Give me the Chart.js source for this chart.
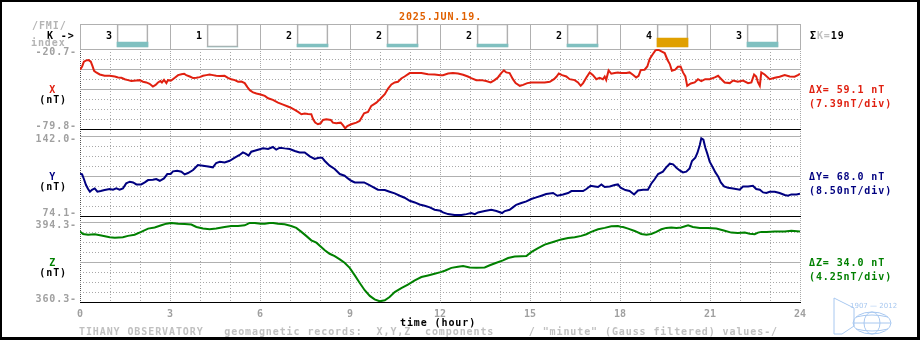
<!DOCTYPE html>
<html>
<head>
<meta charset="utf-8">
<title>Tihany geomagnetic records 2025.JUN.19.</title>
<script src="https://cdn.jsdelivr.net/npm/chart.js@4.4.1/dist/chart.umd.min.js"></script>
<style>
  html, body { margin: 0; padding: 0; background: #fff; }
  #wrap { position: relative; width: 920px; height: 340px; overflow: hidden; background: #fff; }
  #wrap canvas { position: absolute; left: 0; top: 0; }
  .t { position: absolute; font: bold 10px "DejaVu Sans Mono", monospace; letter-spacing: 0.9px;
       line-height: 12px; white-space: pre; }
  #frame { position: absolute; left: 0; top: 0; width: 920px; height: 340px; box-sizing: border-box;
           border-style: solid; border-color: #000; border-width: 2px 3px 3px 2px; pointer-events: none; }
</style>
</head>
<body>
<div id="wrap">
  <canvas id="kCanvas" width="920" height="340"></canvas>
  <canvas id="xCanvas" width="920" height="340"></canvas>
  <canvas id="yCanvas" width="920" height="340"></canvas>
  <canvas id="zCanvas" width="920" height="340"></canvas>
  <svg style="position:absolute;left:832px;top:296px" width="72" height="42" viewBox="0 0 72 42">
    <g fill="none" stroke="#a8c8f0" stroke-width="1">
      <path d="M2 2 L22 12 L22 30 L10 38 L2 38 Z"/>
      <ellipse cx="40" cy="27" rx="19" ry="11"/>
      <ellipse cx="40" cy="27" rx="8" ry="11"/>
      <line x1="21" y1="27" x2="59" y2="27"/>
      <path d="M24 21 Q40 17 56 21 M24 33 Q40 37 56 33"/>
    </g>
    <text x="18" y="12" font-family="DejaVu Sans" font-size="7" fill="#a8c8f0">1907 — 2012</text>
  </svg>
  <div id="frame"></div>
</div>
<script>
const FONT = '"DejaVu Sans Mono", monospace';
const GRID = '#a8a8a8';
const SOLID_GREY = '#b0b0b0';

// --- data ---
const dateLabel = '2025.JUN.19.';
const kIndex = [3, 1, 2, 2, 2, 2, 4, 3];       // K per 3-hour interval
const kBar = [5, 0, 3, 3, 3, 3, 9, 5];         // height of the K bar in the strip
const kSum = 19;
const hourTicks = [0, 3, 6, 9, 12, 15, 18, 21, 24];

const components = ['X', 'Y', 'Z'];
const compColors = ['#e02010', '#000080', '#008000'];
const compTop = [-20.7, 142.0, 394.3];
const compBottom = [-79.8, 74.1, 360.3];
const compDelta = ['59.1', '68.0', '34.0'];
const compPerDiv = ['7.39', '8.50', '4.25'];

const xHours = [0.00,0.07,0.13,0.21,0.29,0.36,0.42,0.47,0.54,0.66,0.82,0.99,1.16,1.27,1.38,1.49,1.60,1.71,1.88,1.99,
  2.10,2.21,2.32,2.43,2.52,2.60,2.68,2.73,2.80,2.88,2.93,3.04,3.16,3.27,3.38,3.47,3.54,3.66,3.77,3.88,3.99,
  4.10,4.21,4.32,4.43,4.54,4.66,4.82,4.93,5.04,5.16,5.27,5.38,5.49,5.58,5.66,5.77,5.88,6.02,6.16,6.27,6.43,
  6.60,6.77,6.93,7.04,7.16,7.27,7.38,7.49,7.60,7.71,7.77,7.84,7.93,8.02,8.10,8.21,8.36,8.43,8.54,8.69,8.77,
  8.84,8.91,9.04,9.21,9.32,9.47,9.60,9.71,9.88,10.02,10.16,10.27,10.38,10.49,10.60,10.71,10.82,10.99,11.16,
  11.38,11.60,11.82,12.02,12.10,12.27,12.43,12.60,12.77,12.93,13.04,13.21,13.38,13.54,13.69,13.82,13.93,
  14.04,14.13,14.21,14.32,14.43,14.52,14.66,14.77,14.91,15.04,15.27,15.49,15.66,15.80,15.88,15.96,16.07,
  16.21,16.32,16.49,16.60,16.69,16.77,16.88,16.99,17.10,17.21,17.32,17.43,17.49,17.54,17.62,17.71,17.82,
  17.93,18.02,18.21,18.32,18.43,18.54,18.62,18.69,18.82,18.91,18.99,19.08,19.18,19.27,19.38,19.49,19.58,
  19.66,19.73,19.84,19.93,20.02,20.10,20.18,20.24,20.36,20.49,20.60,20.71,20.84,20.99,21.16,21.27,21.38,
  21.49,21.66,21.77,21.93,22.10,22.27,22.38,22.47,22.54,22.60,22.66,22.71,22.82,22.99,23.16,23.32,23.49,
  23.66,23.82,23.93,24.00];
const xValues = [-36.0,-33.6,-30.1,-29.1,-28.9,-30.1,-33.6,-36.8,-38.0,-39.5,-40.5,-40.5,-41.0,-41.7,-42.0,-43.0,-43.7,-44.4,-44.0,-43.7,
  -44.9,-45.4,-46.4,-48.4,-47.2,-45.4,-44.4,-45.4,-43.5,-45.9,-43.7,-44.0,-42.0,-40.0,-39.3,-39.0,-40.0,-41.0,-42.2,-42.0,-41.5,
  -40.5,-40.0,-39.5,-40.0,-40.5,-40.7,-40.5,-42.0,-43.0,-43.7,-44.9,-44.7,-45.9,-48.9,-51.1,-52.8,-53.6,-54.3,-55.3,-57.1,-58.3,
  -60.3,-61.8,-63.2,-64.2,-65.7,-67.2,-68.9,-68.4,-68.7,-68.9,-72.6,-75.1,-76.3,-75.6,-73.1,-72.6,-73.1,-75.1,-75.6,-75.1,-77.1,
  -79.3,-77.6,-76.3,-75.1,-73.9,-68.2,-67.2,-62.7,-60.3,-57.3,-54.1,-49.9,-46.9,-45.4,-44.9,-42.5,-41.0,-38.5,-38.5,
  -38.5,-39.3,-39.5,-40.0,-40.0,-38.8,-38.5,-38.8,-39.7,-41.0,-42.2,-43.7,-43.7,-44.4,-45.4,-43.7,-41.7,
  -38.5,-36.5,-38.0,-38.5,-43.0,-45.9,-47.9,-47.2,-45.9,-45.4,-45.4,-45.4,-44.9,-43.0,-41.2,-38.8,-40.0,
  -41.0,-43.0,-43.7,-45.4,-47.9,-45.9,-41.7,-38.0,-40.0,-43.0,-42.0,-43.0,-41.0,-43.5,-36.5,-39.0,-38.5,
  -38.0,-38.5,-38.5,-38.0,-39.7,-41.7,-40.5,-36.3,-36.0,-33.6,-28.1,-24.9,-21.7,-21.2,-22.4,-23.7,-28.6,
  -31.8,-36.8,-36.0,-33.8,-33.6,-38.0,-41.0,-47.9,-46.2,-45.4,-43.0,-44.4,-43.0,-43.0,-41.7,-40.5,-43.0,
  -45.4,-45.9,-44.0,-44.9,-44.0,-45.9,-45.4,-39.5,-41.0,-45.4,-47.9,-38.0,-39.5,-43.0,-42.0,-41.2,-40.0,
  -41.0,-41.2,-40.0,-39.0];

const yHours = [0.00,0.07,0.13,0.20,0.27,0.33,0.40,0.49,0.58,0.69,0.82,0.99,1.10,1.21,1.32,1.43,1.54,1.66,1.77,1.88,
  2.04,2.16,2.27,2.43,2.54,2.66,2.80,2.91,3.02,3.10,3.24,3.38,3.49,3.60,3.77,3.93,4.10,4.27,4.43,4.54,4.66,
  4.82,4.99,5.16,5.32,5.43,5.52,5.62,5.71,5.82,6.02,6.10,6.27,6.43,6.54,6.66,6.82,6.99,7.16,7.32,7.49,7.66,
  7.82,7.96,8.07,8.16,8.32,8.49,8.66,8.82,8.93,9.04,9.16,9.32,9.47,9.60,9.77,9.93,10.16,10.32,10.49,10.66,
  10.82,10.99,11.16,11.32,11.49,11.66,11.82,12.02,12.10,12.27,12.49,12.71,12.88,13.04,13.16,13.27,13.49,
  13.71,13.88,14.07,14.16,14.32,14.43,14.54,14.71,14.88,15.04,15.21,15.38,15.54,15.77,15.91,16.10,16.27,
  16.38,16.60,16.77,16.88,17.02,17.16,17.27,17.38,17.49,17.66,17.82,17.93,18.02,18.18,18.32,18.47,18.60,
  18.77,18.93,19.04,19.16,19.27,19.43,19.54,19.66,19.77,19.88,19.99,20.10,20.21,20.32,20.40,20.51,20.58,
  20.66,20.71,20.78,20.84,20.91,20.99,21.10,21.18,21.27,21.36,21.47,21.60,21.77,21.99,22.10,22.27,22.43,
  22.54,22.66,22.77,22.88,22.99,23.16,23.32,23.49,23.60,23.71,23.88,24.00];
const yValues = [110.0,109.4,105.5,100.4,97.0,94.7,96.4,97.5,94.7,95.3,96.1,97.0,96.4,97.5,96.4,97.5,101.8,103.2,102.6,100.9,
  100.9,102.6,104.6,104.9,105.5,104.0,106.0,109.7,109.7,112.0,112.5,111.7,109.4,110.6,113.1,117.4,116.8,116.2,115.4,119.1,120.2,
  119.6,121.0,123.6,125.9,128.1,127.0,125.3,128.7,129.5,131.0,131.5,131.0,132.7,130.4,132.1,131.5,131.0,129.3,128.1,128.1,124.7,
  122.5,123.6,123.6,120.8,116.8,114.0,109.7,108.3,106.0,104.0,102.6,102.6,102.6,100.9,98.7,96.4,96.1,94.7,93.3,91.3,
  89.6,87.0,85.6,83.9,82.8,81.4,79.4,78.5,77.1,75.7,74.9,74.9,75.7,76.6,75.7,77.1,78.3,
  79.4,78.3,76.6,78.3,79.4,81.4,83.6,85.1,86.5,88.5,89.9,91.3,92.7,93.6,91.3,92.4,93.6,
  95.3,95.3,95.3,97.0,99.8,99.2,98.7,100.9,98.7,99.2,100.4,100.9,98.1,96.1,95.3,92.4,95.8,
  96.4,96.4,101.5,105.5,109.7,111.7,115.4,118.5,117.9,115.1,112.8,111.1,111.7,114.5,120.8,123.6,127.6,
  134.4,140.0,138.9,132.4,127.0,120.2,115.1,111.1,107.7,102.6,99.2,98.1,97.5,96.4,99.2,99.2,99.8,
  97.0,96.4,94.1,93.6,94.7,94.7,93.6,91.9,91.3,92.4,92.4,93.0];

const zHours = [0.00,0.10,0.27,0.49,0.71,0.99,1.16,1.43,1.60,1.82,2.04,2.27,2.49,2.71,2.88,3.04,3.27,3.49,3.71,3.88,
  4.10,4.32,4.54,4.82,5.04,5.27,5.49,5.66,5.82,6.02,6.16,6.38,6.60,6.82,7.04,7.21,7.38,7.54,7.71,7.88,8.04,
  8.16,8.32,8.49,8.66,8.82,8.99,9.16,9.32,9.49,9.66,9.82,9.99,10.16,10.32,10.49,10.71,10.93,11.16,11.38,
  11.60,11.82,12.02,12.16,12.38,12.60,12.77,12.99,13.21,13.49,13.66,13.88,14.10,14.27,14.49,14.71,14.88,
  15.04,15.27,15.49,15.77,16.04,16.27,16.49,16.71,16.88,17.04,17.27,17.49,17.71,17.93,18.02,18.10,18.27,
  18.49,18.71,18.88,19.04,19.21,19.38,19.54,19.71,19.88,20.04,20.27,20.43,20.66,20.93,21.21,21.49,21.71,
  21.93,22.16,22.32,22.49,22.60,22.71,22.88,23.16,23.49,23.71,24.00];
const zValues = [390.3,389.2,388.9,389.1,388.6,387.8,387.6,387.8,388.4,388.9,390.1,391.5,392.0,392.9,393.6,393.9,393.6,393.5,393.2,392.2,
  391.5,391.2,391.5,392.2,392.6,392.6,392.9,393.9,393.9,393.6,393.6,394.0,393.6,393.3,392.6,391.8,390.1,388.4,386.5,385.5,383.7,
  382.3,380.8,379.8,378.4,377.0,374.8,371.6,368.5,365.3,362.9,361.4,360.6,361.0,362.4,364.5,366.2,367.7,369.5,370.9,
  371.6,372.3,373.0,373.6,374.8,375.3,375.6,375.0,374.9,375.0,375.9,377.0,378.0,379.0,379.6,379.7,379.8,
  381.5,383.2,384.7,385.8,386.9,387.5,387.8,388.4,389.1,390.1,391.2,391.8,392.5,392.6,392.3,392.2,391.5,
  390.5,389.2,388.9,389.2,390.1,391.2,391.8,392.0,391.8,392.0,392.9,392.2,391.8,391.8,391.5,390.6,389.8,
  389.6,389.8,389.3,389.1,389.8,390.1,390.1,390.3,390.3,390.6,390.3];

// --- helpers ---
const crisp = p => Math.round(p) + 0.5;
function strokeLine(ctx, x1, y1, x2, y2) {
  ctx.beginPath();
  ctx.moveTo(x1, y1);
  ctx.lineTo(x2, y2);
  ctx.stroke();
}

// grid of a component panel: hourly verticals, 8 divisions horizontally
const panelGrid = {
  id: 'panelGrid',
  beforeDatasetsDraw(chart, args, opts) {
    const { ctx, chartArea: a } = chart;
    const xs = chart.scales.x, ys = chart.scales.y;
    ctx.save();
    ctx.lineWidth = 1;
    for (let h = 0; h <= 24; h++) {
      const px = crisp(xs.getPixelForValue(h));
      ctx.strokeStyle = h === 0 ? '#505050' : GRID;
      ctx.setLineDash(h % 3 === 0 ? [1, 1] : [1, 2]);
      strokeLine(ctx, px, a.top, px, a.bottom + opts.gap);
    }
    const x1 = crisp(xs.getPixelForValue(0)) - 0.5;
    const x2 = crisp(xs.getPixelForValue(24)) + 0.5;
    for (let i = 0; i <= 8; i++) {
      const py = crisp(ys.getPixelForValue(ys.min + (ys.max - ys.min) * i / 8));
      if (i === 0) { ctx.setLineDash([]); ctx.strokeStyle = '#000'; }
      else if (opts.solid.includes(i)) { ctx.setLineDash([]); ctx.strokeStyle = SOLID_GREY; }
      else { ctx.setLineDash([1, 2]); ctx.strokeStyle = GRID; }
      strokeLine(ctx, x1, py, x2, py);
    }
    ctx.restore();
  }
};

// K-index strip: frame, 3-hour separators and the K numbers
const kStrip = {
  id: 'kStrip',
  beforeDatasetsDraw(chart) {
    const { ctx, chartArea: a } = chart;
    const xs = chart.scales.x;
    ctx.save();
    ctx.lineWidth = 1;
    ctx.strokeStyle = SOLID_GREY;
    strokeLine(ctx, crisp(a.left) - 0.5, crisp(a.top), crisp(a.right) + 0.5, crisp(a.top));
    hourTicks.forEach(h => {
      const px = crisp(xs.getPixelForValue(h));
      strokeLine(ctx, px, crisp(a.top), px, a.bottom);
    });
    ctx.fillStyle = '#000';
    ctx.font = 'bold 10px ' + FONT;
    ctx.textAlign = 'center';
    ctx.textBaseline = 'middle';
    kIndex.forEach((k, i) => ctx.fillText(String(k), xs.getPixelForValue(i * 3 + 1) - 1, a.top + 12));
    ctx.restore();
  }
};

const quiet = { legend: { display: false }, tooltip: { enabled: false } };

// --- K strip chart ---
new Chart(document.getElementById('kCanvas'), {
  type: 'bar',
  data: {
    datasets: [
      {
        data: kIndex.map((k, i) => ({ x: i * 3 + 1.75, y: [2, 2 + kBar[i]] })),
        backgroundColor: kIndex.map(k => k >= 4 ? '#e0a000' : '#80c0c0'),
        borderWidth: 0,
        barThickness: 31,
        grouped: false
      },
      {
        data: kIndex.map((k, i) => ({ x: i * 3 + 1.75, y: [2, 25] })),
        backgroundColor: 'rgba(0,0,0,0)',
        borderColor: SOLID_GREY,
        borderWidth: 1,
        borderSkipped: false,
        barThickness: 31,
        grouped: false
      }
    ]
  },
  options: {
    responsive: false,
    animation: false,
    events: [],
    layout: { padding: { left: 80, right: 120, top: 24, bottom: 291 } },
    scales: {
      x: { type: 'linear', min: 0, max: 24, offset: false, display: false },
      y: { type: 'linear', min: 0, max: 25, display: false }
    },
    plugins: quiet
  },
  plugins: [kStrip]
});

// --- X, Y, Z panels ---
const panels = [
  { canvas: 'xCanvas', hours: xHours, values: xValues, top: 49, bottom: 129, gap: 7, solid: [4, 6, 8] },
  { canvas: 'yCanvas', hours: yHours, values: yValues, top: 136, bottom: 216, gap: 6, solid: [4, 8] },
  { canvas: 'zCanvas', hours: zHours, values: zValues, top: 222, bottom: 302, gap: 0, solid: [4, 8] }
];

const hourAxis = {
  type: 'linear', min: 0, max: 24, display: true, position: 'bottom',
  afterBuildTicks: s => { s.ticks = hourTicks.map(v => ({ value: v })); },
  afterFit: s => { s.height = 30; },
  grid: { display: false, drawTicks: false },
  border: { display: false },
  ticks: {
    color: '#a0a0a0', padding: 6, maxRotation: 0, autoSkip: false,
    font: { family: FONT, size: 10, weight: 'bold' },
    callback: v => String(v)
  }
};

panels.forEach((p, k) => {
  const showHours = k === panels.length - 1;
  new Chart(document.getElementById(p.canvas), {
    type: 'line',
    data: {
      datasets: [{
        label: components[k],
        data: p.hours.map((h, i) => ({ x: h, y: p.values[i] })),
        borderColor: compColors[k],
        borderWidth: 2,
        pointRadius: 0,
        tension: 0,
        fill: false
      }]
    },
    options: {
      responsive: false,
      animation: false,
      events: [],
      layout: { padding: { left: 80, right: 120, top: p.top, bottom: 340 - p.bottom - (showHours ? 30 : 0) } },
      scales: {
        x: showHours ? hourAxis : { type: 'linear', min: 0, max: 24, display: false },
        y: { type: 'linear', min: compBottom[k], max: compTop[k], display: false }
      },
      plugins: Object.assign({ panelGrid: { gap: p.gap, solid: p.solid } }, quiet)
    },
    plugins: [panelGrid]
  });
});

// --- text around the panels ---
const wrap = document.getElementById('wrap');
function label(text, x, cy, color, alignRight) {
  const d = document.createElement('div');
  d.className = 't';
  d.textContent = text;
  d.style.color = color;
  d.style.top = (cy - 6) + 'px';
  if (alignRight) d.style.right = (920 - x) + 'px';
  else d.style.left = x + 'px';
  wrap.insertBefore(d, document.getElementById('frame'));
  return d;
}

label(dateLabel, 399, 16.5, '#e06000');
label('/FMI/', 32, 26, '#b4b4b4');
label('K ->', 47, 35.5, '#000');
label('index', 31, 43.3, '#b4b4b4');

const sumDiv = label('', 810, 36, '#000');
sumDiv.innerHTML = 'Σ<span style="color:#c0c0c0">K=</span>' + kSum;

panels.forEach((p, k) => {
  const mid = (p.top + p.bottom) / 2;
  label(compTop[k].toFixed(1) + '-', 77, p.top + 3, '#a0a0a0', true);
  label(compBottom[k].toFixed(1) + '-', 77, p.bottom - 3, '#a0a0a0', true);
  label(components[k], 49.3, mid + 0.5, compColors[k]);
  label('(nT)', 39.3, mid + 10.5, '#000');
  label('Δ' + components[k] + '= ' + compDelta[k] + ' nT', 809, mid + 0.5, compColors[k]);
  label('(' + compPerDiv[k] + 'nT/div)', 809, mid + 15, compColors[k]);
});

label('time (hour)', 400, 322.5, '#000');
label('TIHANY OBSERVATORY   geomagnetic records:  X,Y,Z  components     / "minute" (Gauss filtered) values-/',
      79, 332, '#c0c0c0');
</script>
</body>
</html>
